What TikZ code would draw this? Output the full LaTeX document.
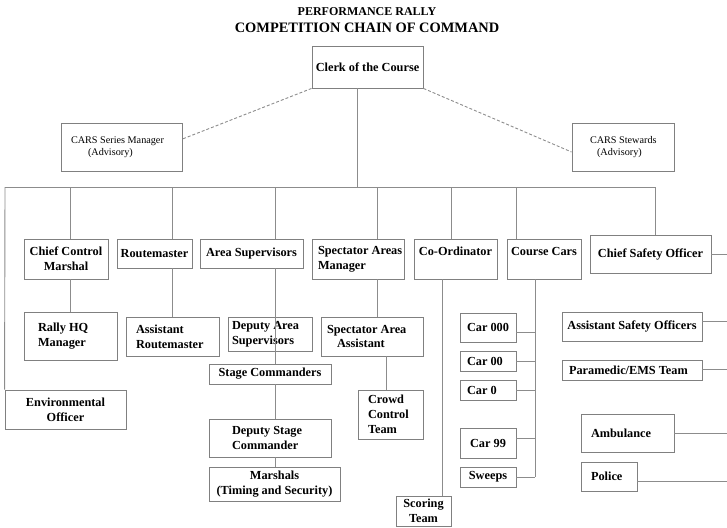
\documentclass[tikz,border=0pt]{standalone}
\usepackage{fontspec}
\setmainfont{Liberation Serif}
\definecolor{boxgray}{HTML}{808080}
\definecolor{linegray}{HTML}{8C8C8C}

\begin{document}
\begin{tikzpicture}[x=1pt, y=-1pt,
    box/.style={draw=boxgray, line width=0.9pt, align=center, inner sep=0pt,
                font=\bfseries\fontsize{12.3}{14.8}\selectfont},
    lbox/.style={box, align=flush left},
    adv/.style={box, align=flush left, font=\fontsize{10.2}{11.5}\selectfont},
    ln/.style={draw=linegray, line width=0.9pt},
    adl/.style={ln, dash pattern=on 3pt off 2pt},
  ]
    \useasboundingbox (0,0) rectangle (727,527);
    \node[font=\bfseries\fontsize{12}{14}\selectfont] (title) at (367,12) {PERFORMANCE RALLY};
    \node[font=\bfseries\fontsize{14.4}{16}\selectfont] (subtitle) at (367,28) {COMPETITION CHAIN OF COMMAND};

    % top level and advisory boxes
    \node[box, minimum width=111, minimum height=42] (clerk) at (367.5,67) {Clerk of the Course};
    \node[adv, text width=101, inner xsep=10, minimum height=48] (csm) at (121.5,147)
       {\mbox{CARS Series Manager}\\\hspace*{17pt}(Advisory)};
    \node[adv, text width=66, inner xsep=18, minimum height=48] (cst) at (623,147)
       {\mbox{CARS Stewards}\\\hspace*{7pt}(Advisory)};

    % first row
    \node[box, minimum width=84, minimum height=40] (ccm) at (66,259) {Chief Control\\Marshal};
    \node[box, minimum width=75, minimum height=29] (rtm) at (154.5,253.5) {Routemaster};
    \node[box, minimum width=103, minimum height=29] (asv) at (251.5,253.5) {Area Supervisors};
    \node[lbox, text width=80, inner xsep=6, minimum height=40] (sam) at (358,259)
       {\mbox{Spectator Areas}\\Manager};
    \node[box, minimum width=83, minimum height=40] (cor) at (455.5,259) {Co-Ordinator\\ \mbox{}};
    \node[box, minimum width=74, minimum height=40] (ccs) at (544,259) {Course Cars\\ \mbox{}};
    \node[box, minimum width=121, minimum height=38] (cso) at (650.5,254) {Chief Safety Officer};

    % second row
    \node[lbox, text width=65, inner xsep=14, minimum height=48] (rhq) at (70.5,336) {Rally HQ\\Manager};
    \node[lbox, text width=73, inner xsep=10, minimum height=39] (art) at (172.5,336.5) {Assistant\\Routemaster};
    \node[lbox, text width=76, inner xsep=4, minimum height=34] (das) at (270,334)
       {\mbox{Deputy Area}\\Supervisors};
    \node[lbox, text width=90, inner xsep=6, minimum height=39] (saa) at (372,336.5)
       {\mbox{Spectator Area}\\\hspace*{10pt}Assistant};

    % stage chain
    \node[box, minimum width=122, minimum height=20] (stc) at (270,374) {Stage Commanders};
    \node[lbox, text width=76, inner xsep=23, minimum height=38] (dsc) at (270,438)
       {\mbox{Deputy Stage}\\Commander};
    \node[box, minimum width=131, minimum height=34] (mar) at (274.5,484) {Marshals\\(Timing and Security)};

    \node[box, minimum width=121, minimum height=39] (env) at (65.5,409.5) {Environmental\\Officer};
    \node[lbox, text width=45, inner xsep=10, minimum height=49] (cct) at (390.5,414.5) {Crowd\\Control\\Team};
    \node[box, minimum width=55, minimum height=30] (sct) at (423.5,511) {Scoring\\Team};

    % course cars
    \node[box, minimum width=56, minimum height=29] (c000) at (488,327.5) {Car 000};
    \node[lbox, text width=42, inner xsep=7, minimum height=20] (c00) at (488,361) {Car 00};
    \node[lbox, text width=42, inner xsep=7, minimum height=20] (c0) at (488,390) {Car 0};
    \node[box, minimum width=56, minimum height=30] (c99) at (488,443) {Car 99};
    \node[box, minimum width=56, minimum height=20] (swp) at (488,477) {Sweeps};

    % safety column
    \node[box, minimum width=140, minimum height=29] (aso) at (632,326.5) {Assistant Safety Officers};
    \node[lbox, text width=126, inner xsep=7, minimum height=20] (pem) at (632,370) {Paramedic/EMS Team};
    \node[lbox, text width=73, inner xsep=10, minimum height=38] (amb) at (627.5,433) {Ambulance};
    \node[lbox, text width=36, inner xsep=10, minimum height=29] (pol) at (609,476.5) {Police};

    % connectors
    \coordinate (busL) at (5,187);
    \coordinate (busR) at (655,187);
    \coordinate (spine) at (535,477);
    \draw[ln] (busL) -- (busR);
    \draw[ln] (357,0 |- clerk.south) -- (357,0 |- busL);
    \draw[ln] (busL) -- (env.north west);
    \draw[ln] (busR) -- (busR |- cso.north);
    \foreach \x/\n in {70/ccm, 172/rtm, 275/asv, 377/sam, 451/cor, 516/ccs}
      \draw[ln] (\x,0 |- busL) -- (\x,0 |- \n.north);

    \draw[ln] (70,0 |- ccm.south) -- (70,0 |- rhq.north);
    \draw[ln] (172,0 |- rtm.south) -- (172,0 |- art.north);
    \draw[ln] (275,0 |- asv.south) -- (275,0 |- stc.north);
    \draw[ln] (275,0 |- stc.south) -- (275,0 |- dsc.north);
    \draw[ln] (275,0 |- dsc.south) -- (275,0 |- mar.north);
    \draw[ln] (377,0 |- sam.south) -- (377,0 |- saa.north);
    \draw[ln] (386,0 |- saa.south) -- (386,0 |- cct.north);
    \draw[ln] (442,0 |- cor.south) -- (442,0 |- sct.north);

    \draw[ln] (spine |- ccs.south) -- (spine);
    \foreach \n/\d in {c000/-4.5, c00/0, c0/0, c99/5, swp/0}
      \draw[ln] ([yshift=\d pt]\n.east) -- ++(19,0);
    \foreach \n/\d/\w in {cso/0/16, aso/5.5/25, pem/1/25, amb/0/53, pol/-4.5/90}
      \draw[ln] ([yshift=\d pt]\n.east) -- ++(\w,0);

    % advisory links
    \draw[adl] (clerk.south west) -- ([yshift=8pt]csm.east);
    \draw[adl] (clerk.south east) -- ([yshift=-5pt]cst.west);
  \end{tikzpicture}
\end{document}
